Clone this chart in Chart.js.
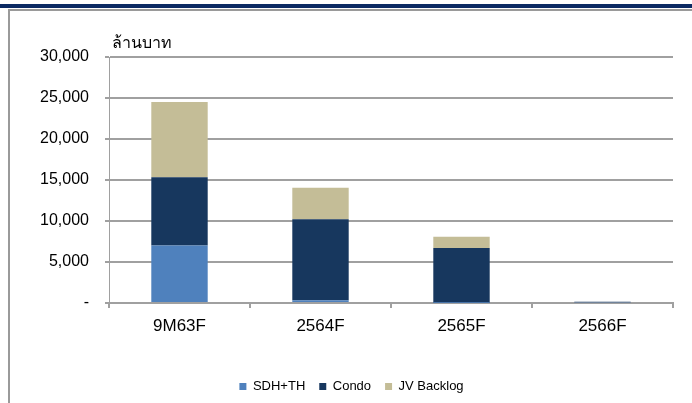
<!DOCTYPE html>
<html>
<head>
<meta charset="utf-8">
<script src="https://cdn.jsdelivr.net/npm/chart.js@4/dist/chart.umd.min.js"></script>
<style>
    html, body { margin: 0; padding: 0; background: #fff; }
    #wrap { position: relative; width: 692px; height: 403px; overflow: hidden; }
    #topbar { position: absolute; left: 0; top: 4px; width: 692px; height: 4px; background: #0b2a63; }
    #frame { position: absolute; left: 8px; top: 9px; width: 700px; height: 420px; border-left: 2px solid #9a9a9a; border-top: 2px solid #9a9a9a; }
    #chartBox { position: absolute; left: 0; top: 0; width: 692px; height: 403px; }
</style>
</head>
<body>
<div id="wrap">
    <div id="topbar"></div>
    <div id="frame"></div>
    <div id="chartBox"><canvas id="backlogChart"></canvas></div>
</div>
<script>
// values (million baht)
const categories = ['9M63F', '2564F', '2565F', '2566F'];
const sdhTh = [7020, 330, 40, 100];
const condo = [8330, 9870, 6660, 60];
const jvBacklog = [9150, 3850, 1380, 0];
const yTicks = [0, 5000, 10000, 15000, 20000, 25000, 30000];
const unitLabel = 'ล้านบาท';

const FONT = '"Liberation Sans", Arial, sans-serif';

// draws the unit text above the plot area
const unitLabelPlugin = {
    id: 'unitLabel',
    afterDraw(chart) {
        const ctx = chart.ctx;
        ctx.save();
        ctx.font = '16px ' + FONT;
        ctx.fillStyle = '#000';
        ctx.textBaseline = 'middle';
        ctx.fillText(unitLabel, chart.chartArea.left + 3, 44);
        ctx.restore();
    }
};

new Chart(document.getElementById('backlogChart'), {
    type: 'bar',
    data: {
        labels: categories,
        datasets: [
            { label: 'SDH+TH', data: sdhTh, backgroundColor: '#4f81bd' },
            { label: 'Condo', data: condo, backgroundColor: '#17375e' },
            { label: 'JV Backlog', data: jvBacklog, backgroundColor: '#c4bd97' }
        ]
    },
    options: {
        responsive: true,
        maintainAspectRatio: false,
        animation: false,
        layout: { padding: { top: 57, right: 19, bottom: 0, left: 30 } },
        datasets: {
            bar: { categoryPercentage: 1, barPercentage: 0.4 }
        },
        plugins: {
            legend: {
                position: 'bottom',
                labels: {
                    boxWidth: 7,
                    boxHeight: 7,
                    padding: 14,
                    color: '#000',
                    font: { family: FONT, size: 13 }
                }
            },
            tooltip: { enabled: false }
        },
        scales: {
            x: {
                stacked: true,
                afterFit(scale) { scale.height = 63; },
                grid: {
                    offset: true,
                    drawOnChartArea: false,
                    tickLength: 5,
                    color: '#a0a0a0',
                    lineWidth: 2
                },
                border: { color: '#a0a0a0', width: 2 },
                ticks: {
                    color: '#000',
                    padding: 8,
                    font: { family: FONT, size: 17 }
                }
            },
            y: {
                stacked: true,
                min: 0,
                max: 30000,
                afterFit(scale) { scale.width = 79; },
                afterBuildTicks(scale) {
                    scale.ticks = yTicks.map(v => ({ value: v }));
                },
                grid: {
                    color: '#a0a0a0',
                    lineWidth: 2,
                    tickLength: 4
                },
                border: { color: '#a0a0a0', width: 1 },
                ticks: {
                    color: '#000',
                    padding: 16,
                    font: { family: FONT, size: 16 },
                    callback: v => v === 0 ? '-' : v.toLocaleString('en-US')
                }
            }
        }
    },
    plugins: [unitLabelPlugin]
});
</script>
</body>
</html>
